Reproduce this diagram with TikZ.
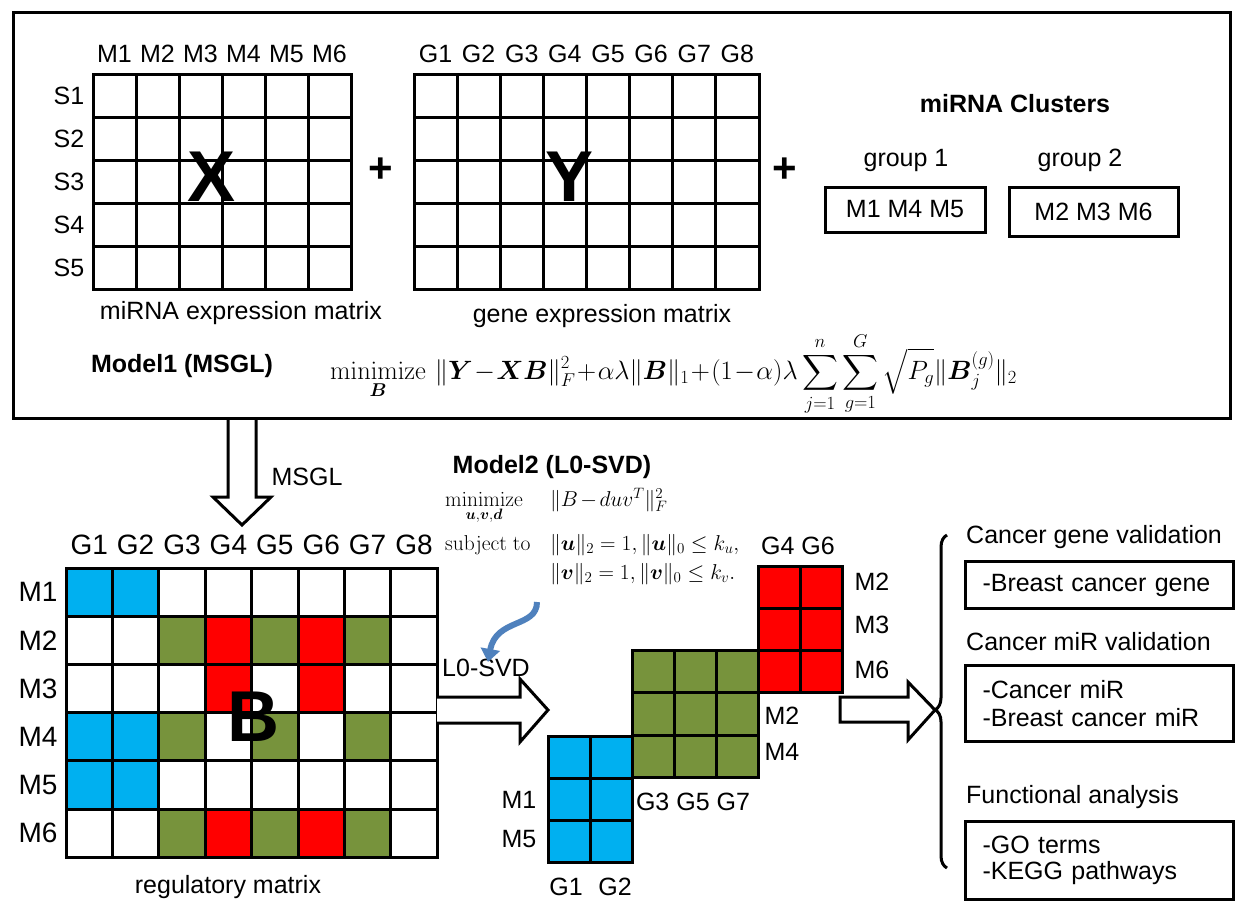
\documentclass[tikz,border=0pt]{standalone}
\usepackage{fix-cm}
\usepackage{amsmath}
\usepackage[no-math]{fontspec}
\setmainfont{Liberation Sans}
\usetikzlibrary{arrows.meta}
\usetikzlibrary{decorations.pathreplacing}
\definecolor{cellblue}{HTML}{00B0F0}
\definecolor{cellgreen}{HTML}{77933C}
\definecolor{cellred}{HTML}{FF0000}
\definecolor{curveblue}{HTML}{4F81BD}

\begin{document}
\begin{tikzpicture}[x=1pt,y=-1pt]
	\tikzstyle{lbl}=[inner sep=0pt, font=\fontsize{25}{28}\selectfont]
	\tikzstyle{biglbl}=[inner sep=0pt, font=\fontsize{28}{32}\selectfont]
	\tikzstyle{boldlbl}=[inner sep=0pt, font=\fontsize{25}{28}\selectfont\bfseries]
	\tikzstyle{letter}=[inner sep=0pt, font=\fontsize{72}{76}\selectfont\bfseries]
	\tikzstyle{plus}=[inner sep=0pt, font=\fontsize{42}{46}\selectfont\bfseries]
	\tikzstyle{mathlbl}=[inner sep=0pt, anchor=base west, font=\fontsize{21.5}{25}\selectfont]
	\tikzstyle{gridline}=[line width=3pt, line cap=rect]
	\tikzstyle{box}=[draw, line width=3pt, inner sep=0pt, font=\fontsize{25}{28}\selectfont]
	\tikzstyle{fat}=[draw, line width=3pt, fill=white, line join=miter]

	\useasboundingbox (0,0) rectangle (1244,916);

	% MSGL arrow (under the frame)
	\draw[fat] (228,418) -- (228,497) -- (213,497) -- (242,525) -- (271,497) -- (256,497) -- (256,418);
	\node[lbl] (msgl) at (307,477) {MSGL};

	% top frame
	\draw[line width=3pt] (13,12) rectangle (1230,418);

	% X matrix
	\foreach \i in {0,...,6} \draw[gridline] (93+43*\i,74) -- ++(0,215);
	\foreach \j in {0,...,5} \draw[gridline] (93,74+43*\j) -- ++(258,0);
	\foreach \i in {1,...,6} \node[lbl] (xm\i) at (71.5+43*\i,54) {M\i};
	\foreach \j in {1,...,5} \node[lbl] (xs\j) at (69,52.5+43*\j) {S\j};
	\node[letter] (xname) at (212,177) {X};
	\node[lbl] (xcap) at (241,313) {miRNA expression matrix};

	\node[plus] (plusone) at (381,170) {+};

	% Y matrix
	\foreach \i in {0,...,8} \draw[gridline] (414+43.125*\i,74) -- ++(0,215);
	\foreach \j in {0,...,5} \draw[gridline] (414,74+43*\j) -- ++(345,0);
	\foreach \i in {1,...,8} \node[lbl] (yg\i) at (392.4+43.125*\i,54) {G\i};
	\node[letter] (yname) at (570,177) {Y};
	\node[lbl] (ycap) at (602,316) {gene expression matrix};

	\node[plus] (plustwo) at (785,170) {+};

	% clusters
	\node[boldlbl] (clusters) at (1015,104) {miRNA Clusters};
	\node[lbl] (grpname1) at (906,160) {group 1};
	\node[lbl] (grpname2) at (1080,160) {group 2};
	\node[box, minimum width=160pt, minimum height=45pt] (grp1) at (905,209.5) {M1 M4 M5};
	\node[box, minimum width=169pt, minimum height=49pt] (grp2) at (1093.5,211.5) {M2 M3 M6};

	% model 1
	\node[boldlbl] (model1) at (182,366) {Model1 (MSGL)};
	\node[inner sep=0pt, anchor=west, font=\fontsize{26.5}{30}\selectfont] (msglform) at (330,374)
	{$\displaystyle \medmuskip=1mu \operatorname*{minimize}_{\boldsymbol{B}}\,\|\boldsymbol{Y}-\boldsymbol{X}\boldsymbol{B}\|_F^2+\alpha\lambda\|\boldsymbol{B}\|_1+(1-\alpha)\lambda\sum_{j=1}^{n}\sum_{g=1}^{G}\sqrt{P_g}\|\boldsymbol{B}_j^{(g)}\|_2$};

	% regulatory matrix B
	\foreach \c/\r/\col in {1/1/cellblue, 2/1/cellblue, 3/2/cellgreen, 4/2/cellred, 5/2/cellgreen, 6/2/cellred, 7/2/cellgreen,
		4/3/cellred, 6/3/cellred, 1/4/cellblue, 2/4/cellblue, 3/4/cellgreen, 5/4/cellgreen, 7/4/cellgreen,
		1/5/cellblue, 2/5/cellblue, 3/6/cellgreen, 4/6/cellred, 5/6/cellgreen, 6/6/cellred, 7/6/cellgreen}
		\fill[\col] (19.6+46.4*\c,519.8+48.2*\r) rectangle ++(46.4,48.2);
	\foreach \i in {0,...,8} \draw[gridline] (66+46.4*\i,568) -- ++(0,289.2);
	\foreach \j in {0,...,6} \draw[gridline] (66,568+48.2*\j) -- ++(371.2,0);
	\foreach \i in {1,...,8} \node[biglbl] (bg\i) at (42.8+46.4*\i,545) {G\i};
	\foreach \j in {1,...,6} \node[biglbl] (bm\j) at (38,543.9+48.2*\j) {M\j};
	\node[letter] (bname) at (253,717) {B};
	\node[lbl] (bcap) at (228,887) {regulatory matrix};

	% model 2
	\node[boldlbl] (model2) at (552,467) {Model2 (L0-SVD)};
	\node[mathlbl] (minlbl) at (445,506) {$\displaystyle\operatorname*{minimize}_{\boldsymbol{u},\boldsymbol{v},\boldsymbol{d}}$};
	\node[mathlbl] (objlbl) at (550,506) {$\medmuskip=2mu \|B-duv^{T}\|_F^2$};
	\node[mathlbl] (subjlbl) at (445,550) {$\mathrm{subject\ to}$};
	\node[mathlbl] (conone) at (550,550) {$\|\boldsymbol{u}\|_2=1,\|\boldsymbol{u}\|_0\leq k_u,$};
	\node[mathlbl] (context) at (550,579) {$\|\boldsymbol{v}\|_2=1,\|\boldsymbol{v}\|_0\leq k_v.$};

	% L0-SVD arrow
	\node[lbl] (lsvd) at (486,668) {L0-SVD};
	\coordinate (curvefrom) at (537,602);
	\draw[curveblue, line width=6pt, -{Triangle[length=13pt,width=19pt]}] (curvefrom) .. controls (537,628) and (496,618) .. ([yshift=-3pt]lsvd.north west -| 488,0);
	\draw[fat] (437,697) -- (520,697) -- (520,679) -- (548,710) -- (520,742) -- (520,723) -- (437,723);

	% biclusters
	\foreach \bx/\by/\nc/\nr/\col in {758/566/2/3/cellred, 632/650.5/3/3/cellgreen, 548/736/2/3/cellblue} {
		\fill[\col] (\bx,\by) rectangle ++(\nc*42.3,\nr*42.3);
		\foreach \i in {0,...,\nc} \draw[gridline] (\bx+\i*42.3,\by) -- ++(0,\nr*42.3);
		\foreach \j in {0,...,\nr} \draw[gridline] (\bx,\by+\j*42.3) -- ++(\nc*42.3,0);
	}
	\node[lbl] (redcols) at (798,546) {G4 G6};
	\node[lbl] (redrowa) at (872,582) {M2};
	\node[lbl] (redrowb) at (872,625) {M3};
	\node[lbl] (redrowc) at (872,670) {M6};
	\node[lbl] (greenrowa) at (782,716) {M2};
	\node[lbl] (greenrowb) at (782,752) {M4};
	\node[lbl] (greencols) at (693,802) {G3 G5 G7};
	\node[lbl] (bluerowa) at (519,800) {M1};
	\node[lbl] (bluerowb) at (519,839) {M5};
	\node[lbl] (bluecola) at (566,887) {G1};
	\node[lbl] (bluecolb) at (615,887) {G2};

	\draw[fat] (840,697) -- (908,697) -- (908,682) -- (935,710) -- (908,740) -- (908,722) -- (840,722) -- cycle;

	% validation
	\draw[line width=3pt, decorate, decoration={brace, amplitude=12pt, aspect=0.525, mirror}] (947,535) -- (947,868);
	\node[lbl, anchor=west] (genehead) at (966,537) {Cancer gene validation};
	\node[box, anchor=north west, minimum width=268pt, minimum height=47pt, inner xsep=17pt, text width=234pt, align=left] (genebox) at (964,560) {-Breast cancer gene};
	\node[lbl, anchor=west] (mirhead) at (966,642) {Cancer miR validation};
	\node[box, anchor=north west, minimum width=268pt, minimum height=76pt, inner xsep=17pt, text width=234pt, align=left] (mirbox) at (964,664) {-Cancer miR\\-Breast cancer miR};
	\node[lbl, anchor=west] (funchead) at (966,797) {Functional analysis};
	\node[box, anchor=north west, minimum width=268pt, minimum height=78pt, inner xsep=17pt, text width=234pt, align=left, font=\fontsize{25}{26}\selectfont] (funcbox) at (964,820) {-GO terms\\-KEGG pathways};
\end{tikzpicture}
\end{document}
